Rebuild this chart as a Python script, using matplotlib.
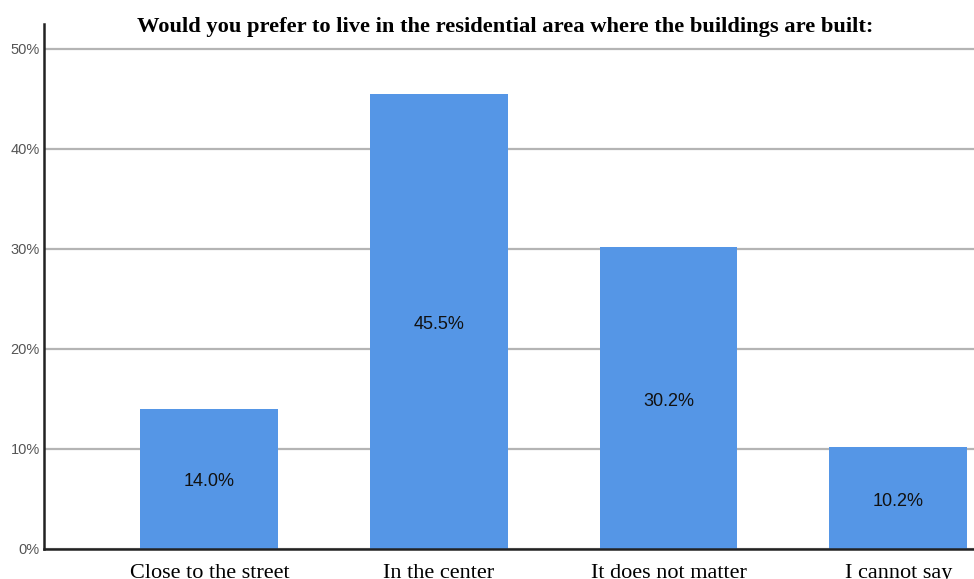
import matplotlib
matplotlib.use("Agg")
import matplotlib.pyplot as plt
from matplotlib.ticker import FuncFormatter

categories = ["Close to the street", "In the center", "It does not matter", "I cannot say"]
percents = [14.0, 45.5, 30.2, 10.2]
yticks = [0, 10, 20, 30, 40, 50]
title = "Would you prefer to live in the residential area where the buildings are built:"

fig = plt.figure(figsize=(9.74, 5.79), dpi=100)
ax = fig.add_axes([44 / 974, 30 / 579, 1 - 44 / 974, 525 / 579])

x = range(len(categories))
ax.bar(x, percents, width=0.6, color="#5596e6", zorder=3)

for xi, v in zip(x, percents):
    ax.text(xi, v / 2 - 0.3, "%.1f%%" % v, ha="center", va="center",
            fontsize=13, family="Liberation Sans", color="#111111", zorder=4)

ax.set_xlim(-0.72, 3.33)
ax.set_ylim(0, 52.5)
ax.set_yticks(yticks)
ax.yaxis.set_major_formatter(FuncFormatter(lambda v, p: "%d%%" % v))
ax.grid(axis="y", color="#b4b4b4", linewidth=1.6, zorder=0)
ax.set_xticks(list(x))
ax.set_xticklabels(categories, family="Liberation Serif", fontsize=16)
ax.tick_params(axis="x", length=0, pad=11)
ax.tick_params(axis="y", length=0, pad=3, labelsize=10.5, labelcolor="#555555")
for lbl in ax.get_yticklabels():
    lbl.set_family("Liberation Sans")

for side in ["top", "right"]:
    ax.spines[side].set_visible(False)
for side in ["left", "bottom"]:
    ax.spines[side].set_linewidth(1.8)
    ax.spines[side].set_color("#222222")
    ax.spines[side].set_zorder(5)

fig.text(505 / 974, 1 - 27 / 579, title, ha="center", va="center",
         family="Liberation Serif", fontweight="bold", fontsize=16.2)

fig.savefig("out.png", dpi=100)
